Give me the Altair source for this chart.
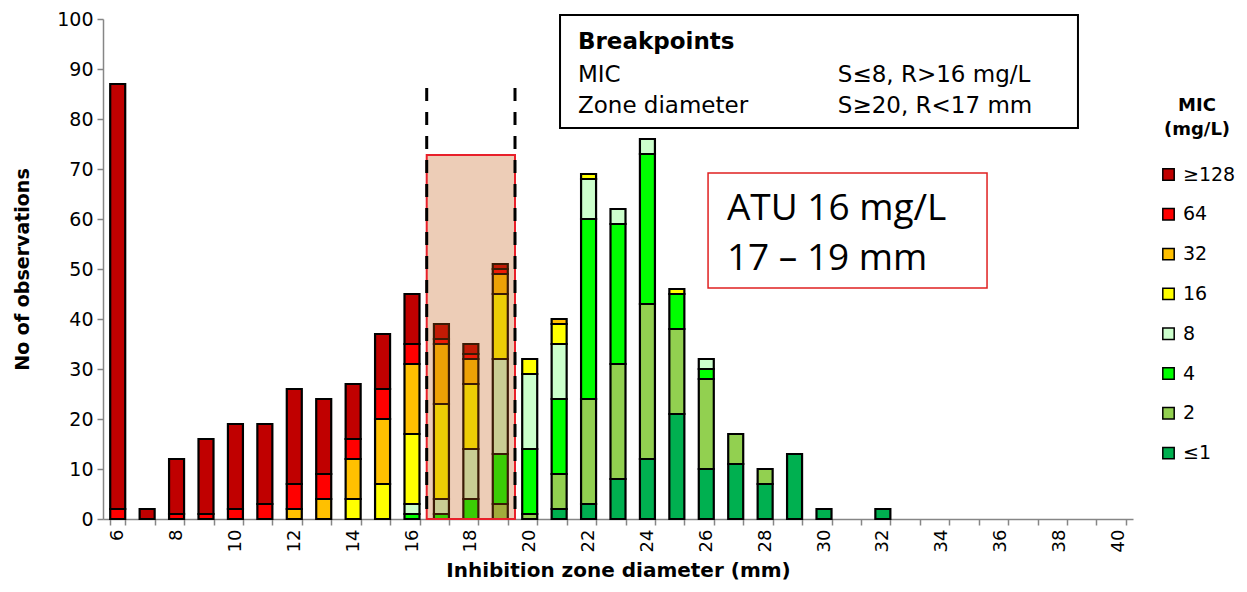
import altair as alt
import pandas as pd

# ---------------- data ----------------
diameters = list(range(6, 41))
mic_labels = ["\u00a0≥128", "64", "32", "16", "8", "4", "2", "≤1"]
mic_colors = ["#C00000", "#FF0000", "#FFC000", "#FFFF00", "#CCFFCC", "#00FF00", "#92D050", "#00B050"]

# counts per diameter 6..40 for each MIC class
c_le1 = [0,0,0,0,0,0,0,0,0,0,0,0,0,0,0,2,3,8,12,21,10,11,7,13,2,0,2,0,0,0,0,0,0,0,0]
c_2   = [0,0,0,0,0,0,0,0,0,0,0,0,0,3,1,7,21,23,31,17,18,6,3,0,0,0,0,0,0,0,0,0,0,0,0]
c_4   = [0,0,0,0,0,0,0,0,0,0,1,1,4,10,13,15,36,28,30,7,2,0,0,0,0,0,0,0,0,0,0,0,0,0,0]
c_8   = [0,0,0,0,0,0,0,0,0,0,2,3,10,19,15,11,8,3,3,0,2,0,0,0,0,0,0,0,0,0,0,0,0,0,0]
c_16  = [0,0,0,0,0,0,0,0,4,7,14,19,13,13,3,4,1,0,0,1,0,0,0,0,0,0,0,0,0,0,0,0,0,0,0]
c_32  = [0,0,0,0,0,0,2,4,8,13,14,12,5,4,0,1,0,0,0,0,0,0,0,0,0,0,0,0,0,0,0,0,0,0,0]
c_64  = [2,0,1,1,2,3,5,5,4,6,4,1,1,1,0,0,0,0,0,0,0,0,0,0,0,0,0,0,0,0,0,0,0,0,0]
c_128 = [85,2,11,15,17,16,19,15,11,11,10,3,2,1,0,0,0,0,0,0,0,0,0,0,0,0,0,0,0,0,0,0,0,0,0]

series = [c_128, c_64, c_32, c_16, c_8, c_4, c_2, c_le1]

rows = []
for k, (lab, vals) in enumerate(zip(mic_labels, series)):
    for d, v in zip(diameters, vals):
        if v > 0:
            rows.append({"mm": d, "mic": lab, "count": v, "stack": len(mic_labels) - k})
bars_df = pd.DataFrame(rows)

# annotation geometry in data units (x: mm, y: observations)
shade = pd.DataFrame([{"x": 16.5, "x2": 19.5, "y": 0, "y2": 72.8}])
dashes = pd.DataFrame([{"x": 16.5, "y": 86.2, "y2": 0}, {"x": 19.5, "y": 86.2, "y2": 0}])
bp_box = pd.DataFrame([{"x": 21.03, "x2": 38.63, "y": 78.2, "y2": 100.8}])
bp_title = pd.DataFrame([{"x": 21.64, "y": 94.0, "t": "Breakpoints"}])
bp_text = pd.DataFrame([
    {"x": 21.64, "y": 87.5, "t": "MIC"},
    {"x": 21.64, "y": 81.2, "t": "Zone diameter"},
    {"x": 30.47, "y": 87.5, "t": "S≤8, R>16 mg/L"},
    {"x": 30.47, "y": 81.2, "t": "S≥20, R<17 mm"},
])
atu_box = pd.DataFrame([{"x": 26.06, "x2": 35.54, "y": 46.2, "y2": 69.2}])
atu_text = pd.DataFrame([
    {"x": 26.7, "y": 59.8, "t": "ATU 16 mg/L"},
    {"x": 26.7, "y": 49.8, "t": "17 – 19 mm"},
])

FONT = "DejaVu Sans"
xq = alt.Scale(domain=[5.5, 40.5], nice=False, zero=False)
yq = alt.Scale(domain=[0, 100], nice=False)

bars = alt.Chart(bars_df).mark_bar(stroke="black", strokeWidth=2.2).encode(
    x=alt.X("mm:O",
            scale=alt.Scale(domain=diameters, paddingInner=0.49, paddingOuter=0.245),
            axis=alt.Axis(title="Inhibition zone diameter (mm)", labelAngle=270,
                          labelExpr="datum.value % 2 == 0 ? datum.label : ''",
                          tickBand="extent", tickSize=6, tickColor="#868686",
                          domainColor="#868686", domainWidth=1.5, tickWidth=1.5,
                          labelFont=FONT, labelFontSize=18, labelColor="black", labelPadding=4,
                          titleFont=FONT, titleFontSize=20, titleFontWeight="bold",
                          titleColor="black", titlePadding=9)),
    y=alt.Y("count:Q", stack="zero", scale=yq,
            axis=alt.Axis(title="No of observations", values=list(range(0, 101, 10)),
                          grid=False, tickSize=6, tickColor="#868686", tickWidth=1.5,
                          domainColor="#868686", domainWidth=1.5,
                          labelFont=FONT, labelFontSize=19, labelColor="black", labelPadding=4,
                          titleFont=FONT, titleFontSize=19, titleFontWeight="bold",
                          titleColor="black", titlePadding=24)),
    color=alt.Color("mic:N", scale=alt.Scale(domain=mic_labels, range=mic_colors),
                    legend=alt.Legend(title=["MIC", "(mg/L)"], orient="none",
                                      legendX=1056, legendY=78, padding=0,
                                      titleFont=FONT, titleFontSize=18, titleFontWeight="bold",
                                      titleColor="black", titleAnchor="middle", titleAlign="center",
                                      titleLineHeight=24, titlePadding=26,
                                      labelFont=FONT, labelFontSize=19, labelColor="black",
                                      labelOffset=5, rowPadding=19.8, labelLimit=120,
                                      symbolType="square", symbolSize=130,
                                      symbolStrokeColor="black", symbolStrokeWidth=1.5,
                                      symbolOpacity=1)),
    order=alt.Order("stack:Q"),
)

shade_l = alt.Chart(shade).mark_rect(fill="#C55A11", fillOpacity=0.3, stroke="#E8202A",
                                     strokeWidth=2).encode(
    x=alt.X("x:Q", scale=xq, axis=None), x2="x2",
    y=alt.Y("y:Q", scale=yq, axis=None), y2="y2")

dash_l = alt.Chart(dashes).mark_rule(color="black", strokeWidth=3, strokeDash=[13, 11]).encode(
    x=alt.X("x:Q", scale=xq, axis=None),
    y=alt.Y("y:Q", scale=yq, axis=None), y2="y2")

bp_box_l = alt.Chart(bp_box).mark_rect(fill="white", stroke="black", strokeWidth=2).encode(
    x=alt.X("x:Q", scale=xq, axis=None), x2="x2",
    y=alt.Y("y:Q", scale=yq, axis=None), y2="y2")

bp_title_l = alt.Chart(bp_title).mark_text(align="left", baseline="alphabetic", font=FONT,
                                           fontSize=23, fontWeight="bold", color="black").encode(
    x=alt.X("x:Q", scale=xq, axis=None),
    y=alt.Y("y:Q", scale=yq, axis=None), text="t:N")

bp_text_l = alt.Chart(bp_text).mark_text(align="left", baseline="alphabetic", font=FONT,
                                         fontSize=23, color="black").encode(
    x=alt.X("x:Q", scale=xq, axis=None),
    y=alt.Y("y:Q", scale=yq, axis=None), text="t:N")

atu_box_l = alt.Chart(atu_box).mark_rect(fillOpacity=0, stroke="#E02020", strokeWidth=1.5).encode(
    x=alt.X("x:Q", scale=xq, axis=None), x2="x2",
    y=alt.Y("y:Q", scale=yq, axis=None), y2="y2")

atu_text_l = alt.Chart(atu_text).mark_text(align="left", baseline="alphabetic", font="Open Sans",
                                           fontSize=37, color="black").encode(
    x=alt.X("x:Q", scale=xq, axis=None),
    y=alt.Y("y:Q", scale=yq, axis=None), text="t:N")

chart = alt.layer(bars, shade_l, dash_l, bp_box_l, bp_title_l, bp_text_l, atu_box_l, atu_text_l
                  ).resolve_scale(x="independent", y="independent").properties(
    width=1030, height=500,
    autosize=alt.AutoSizeParams(type="none"),
    padding={"left": 95, "top": 11, "right": 106, "bottom": 65},
).configure_view(stroke=None)

chart.save("out.html", embed_options={"renderer": "svg", "actions": False})
